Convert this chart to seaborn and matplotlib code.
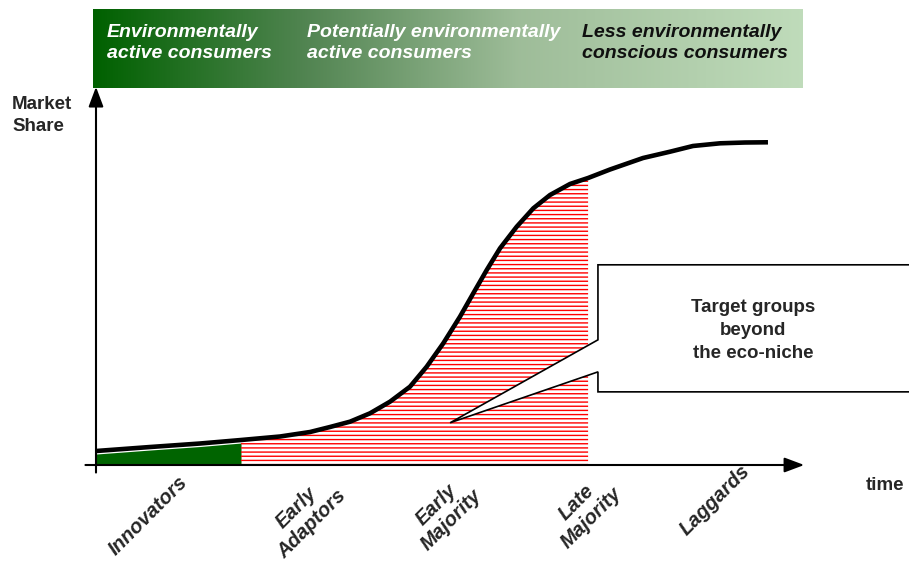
import numpy as np
import pandas as pd
import matplotlib.pyplot as plt
import seaborn as sns
from matplotlib.colors import LinearSegmentedColormap
from matplotlib.patches import Polygon

# diffusion curve: market share over time
time = [0.0, 7.67, 14.77, 20.6, 26.14, 30.40, 33.24, 36.08, 38.92, 41.76,
        44.60, 46.97, 49.33, 51.70, 53.59, 55.50, 57.39, 59.76, 62.12, 64.49,
        67.33, 69.9, 73.01, 77.70, 81.53, 84.80, 88.64, 92.19, 95.45]
share = [3.71, 4.77, 5.70, 6.63, 7.56, 8.75, 10.08, 11.49, 13.71, 16.79,
         20.77, 26.07, 32.28, 39.34, 45.54, 51.72, 57.48, 63.21, 68.09, 71.62,
         74.54, 76.13, 78.38, 81.43, 83.10, 84.62, 85.33, 85.54, 85.60]

innovator_end = 20.6
target_end = 69.9

groups = ["Innovators", "Early\nAdaptors", "Early\nMajority", "Late\nMajority", "Laggards"]
group_x = [7.4, 29.5, 49.4, 69.3, 87.9]
group_y = [-13.5, -13.5, -12.5, -11.9, -9.3]

banner_texts = ["Environmentally\nactive consumers",
                "Potentially environmentally\nactive consumers",
                "Less environmentally\nconscious consumers"]
banner_x = [1.56, 30.0, 69.0]
banner_colors = ["white", "white", "#101010"]

callout = "Target groups\nbeyond\nthe eco-niche"

df = pd.DataFrame({"time": time, "share": share})

sns.set_style("white")
plt.rcParams['font.family'] = ['Liberation Sans', 'DejaVu Sans']
plt.rcParams['hatch.color'] = 'red'
plt.rcParams['hatch.linewidth'] = 1.0

fig = plt.figure(figsize=(9.09, 5.64), dpi=100)
ax = fig.add_axes([96/909, 99/564, 704/909, 377/564])

# gradient banner on top
cmap = LinearSegmentedColormap.from_list("eco", [(0.0, (0.0, 0.38, 0.0)),
                                                 (0.3, (0.32, 0.52, 0.32)),
                                                 (0.6, (0.62, 0.74, 0.60)),
                                                 (1.0, (0.75, 0.86, 0.73))])
grad = np.linspace(0, 1, 256).reshape(1, -1)
img = ax.imshow(grad, extent=[-0.4, 100.4, 100.0, 120.7], aspect='auto', cmap=cmap)
img.set_clip_on(False)
for t, bx, c in zip(banner_texts, banner_x, banner_colors):
    ax.text(bx, 117.0, t, color=c, fontsize=14, fontweight='bold', fontstyle='italic',
            va='top', ha='left', linespacing=1.35, clip_on=False)

x = np.array(time)
y = np.array(share)
ax.fill_between(x, 0, y - 0.8, where=x <= innovator_end, color='#006400', lw=0)
ax.fill_between(x, 0, y, where=(x >= innovator_end) & (x <= target_end),
                facecolor='none', edgecolor='red', hatch='----', lw=0)

sns.lineplot(data=df, x="time", y="share", color='black', lw=3.3, ax=ax, zorder=5,
             solid_joinstyle='round', solid_capstyle='butt')

# axes arrows
ax.annotate('', xy=(100.6, 0), xytext=(-1.5, 0), annotation_clip=False,
            arrowprops=dict(arrowstyle='-|>,head_length=1.2,head_width=0.45',
                            color='black', lw=1.5, shrinkA=0, shrinkB=0))
ax.annotate('', xy=(0, 100.3), xytext=(0, -2), annotation_clip=False,
            arrowprops=dict(arrowstyle='-|>,head_length=1.2,head_width=0.45',
                            color='black', lw=1.5, shrinkA=0, shrinkB=0))

# callout box
box = Polygon([(71.3, 53.1), (117, 53.1), (117, 19.4), (71.3, 19.4), (71.3, 24.7),
               (50.3, 11.2), (71.3, 33.2)], closed=True, facecolor='white',
              edgecolor='black', lw=1.2, zorder=6, clip_on=False)
ax.add_patch(box)
ax.text(93.3, 35.6, callout, ha='center', va='center', fontsize=13.5,
        fontweight='bold', linespacing=1.45, zorder=7)

for g, gx, gy in zip(groups, group_x, group_y):
    ax.text(gx, gy, g, rotation=45, ha='center', va='center', fontsize=14.5,
            fontweight='bold', fontstyle='italic', linespacing=1.2, clip_on=False)

fig.text(12/909, 1 - 96/564, "Market\nShare", fontsize=13.5, fontweight='bold',
         va='top', ha='left', linespacing=1.35)
fig.text(866/909, 1 - 486/564, "time", fontsize=13.5, fontweight='bold',
         va='center', ha='left')

ax.set_xlim(0, 100)
ax.set_ylim(0, 100)
ax.set_axis_off()

fig.savefig("out.png", dpi=100)
